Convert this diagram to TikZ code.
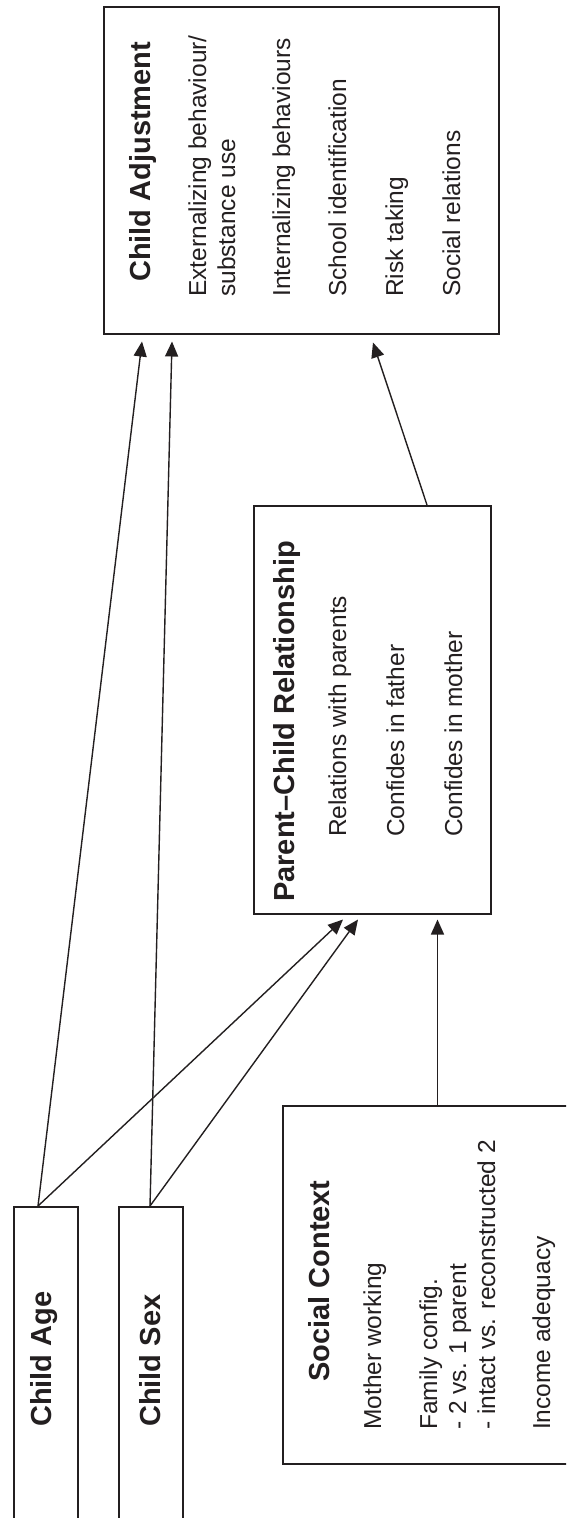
\documentclass[tikz,border=0pt]{standalone}
\usepackage{fontspec}
\setmainfont{Liberation Sans}
\usetikzlibrary{arrows.meta,calc}
\definecolor{ink}{RGB}{35,31,32}
\tikzset{
  box/.style={draw=ink, line width=1.5pt, inner sep=0pt, anchor=north west, rectangle},
  head/.style={rotate=90, anchor=base west, inner sep=0pt, text=ink,
    font=\fontsize{29}{34}\selectfont\bfseries},
  item/.style={rotate=90, anchor=base west, inner sep=0pt, text=ink,
    font=\fontsize{24.5}{29}\selectfont},
  link/.style={draw=ink, line width=1.4pt, -{Triangle[length=15pt,width=13pt]}},
}
\begin{document}
\begin{tikzpicture}[x=1pt, y=-1pt]
  \useasboundingbox (0,0) rectangle (566,1518);
  \fill[white] (0,0) rectangle (566,1518);
  \clip (0,0) rectangle (566,1518);

  % boxes
  \node[box, minimum width=395pt, minimum height=327pt] (ca) at (103,6) {};
  \node[box, minimum width=237pt, minimum height=408pt] (pc) at (253,505) {};
  \node[box, minimum width=340pt, minimum height=358pt] (sc) at (282,1105) {};
  \node[box, minimum width=64pt, minimum height=360pt] (age) at (13,1206) {};
  \node[box, minimum width=64pt, minimum height=360pt] (sex) at (118,1206) {};

  % Child Adjustment
  \node[head] (caT) at (150,282) {Child Adjustment};
  \node[item] (ca1) at (206,297) {Externalizing behaviour/};
  \node[item] (ca1b) at (235,297) {substance use};
  \node[item] (ca2) at (290,297) {Internalizing behaviours};
  \node[item] (ca3) at (346,297) {School identification};
  \node[item] (ca4) at (403,297) {Risk taking};
  \node[item] (ca5) at (460,297) {Social relations};

  % Parent–Child Relationship
  \node[head] (pcT) at (294,902) {Parent–Child Relationship};
  \node[item] (pc1) at (346,837) {Relations with parents};
  \node[item] (pc2) at (404,837) {Confides in father};
  \node[item] (pc3) at (462,837) {Confides in mother};

  % Social Context
  \node[head] (scT) at (329,1382) {Social Context};
  \node[item] (sc1) at (381,1430) {Mother working};
  \node[item] (sc2) at (437,1430) {Family config.};
  \node[item] (sc2a) at (466,1430) {- 2 vs. 1 parent};
  \node[item] (sc2b) at (495,1430) {- intact vs. reconstructed 2};
  \node[item] (sc3) at (550,1430) {Income adequacy};

  % child characteristics
  \node[head] (ageT) at (51,1427) {Child Age};
  \node[head] (sexT) at (160,1427) {Child Sex};

  % paths
  \draw[link] ($(age.north west)+(25,0)$) -- ($(ca.south west)+(39,7)$);
  \draw[link] ($(sex.north west)+(32,0)$) -- ($(ca.south west)+(69,7)$);
  \draw[link] ($(age.north west)+(25,0)$) -- ($(pc.south west)+(90,5)$);
  \draw[link] ($(sex.north west)+(32,0)$) -- ($(pc.south west)+(105,5)$);
  \draw[link] ($(sc.north west)+(155.5,0)$) -- ($(pc.south west)+(184.5,5)$);
  \draw[link] ($(pc.north west)+(174,0)$) -- ($(ca.south west)+(270,8)$);
\end{tikzpicture}
\end{document}
